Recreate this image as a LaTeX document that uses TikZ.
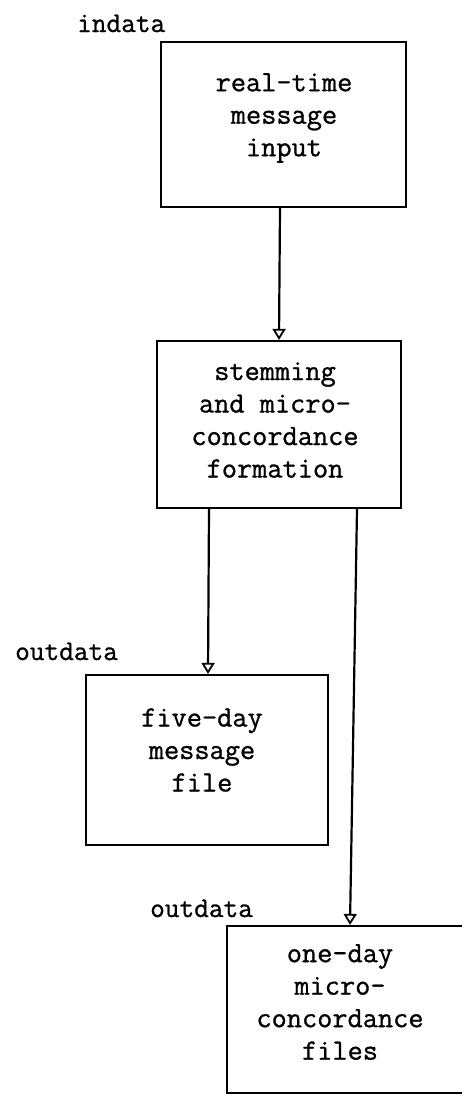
\documentclass[tikz,border=0pt]{standalone}
\usepackage{fontspec}
\newfontfamily\tw{Latin Modern Mono}[FakeBold=0.9]
\usetikzlibrary{arrows.meta}
\begin{document}
\begin{tikzpicture}[x=1pt,y=-1pt,
  box/.style={draw, line width=2.2pt, inner sep=0pt, rectangle},
  txt/.style={font=\tw\fontsize{29.5}{32.5}\selectfont, align=center, inner sep=0pt},
  lbl/.style={font=\tw\fontsize{28.5}{30}\selectfont, inner sep=0pt, anchor=base west},
  arr/.style={line width=2.2pt, -{Triangle[open, length=11pt, width=13pt, line width=1.8pt]}}]
\useasboundingbox (0,0) rectangle (462,1095);
\fill[white] (0,0) rectangle (462,1095);
\clip (0,0) rectangle (462,1095);
% boxes
\node[box, minimum width=245pt, minimum height=165pt] (b1) at (283.5,124.5) {};
\node[box, minimum width=244pt, minimum height=167pt] (b2) at (279,424.5) {};
\node[box, minimum width=242pt, minimum height=170pt] (b3) at (207,760) {};
\node[box, minimum width=253pt, minimum height=167pt] (b4) at (353.5,1009.5) {};
% texts
\node[txt] (t1) at (284,118) {real-time\\message\\input};
\node[txt] (t2) at (275,420) {stemming\\and micro-\\concordance\\formation};
\node[txt] (t3) at (202,750) {five-day\\message\\file};
\node[txt] (t4) at (340,1002) {one-day\\micro-\\concordance\\files};
% labels
\node[lbl] (l1) at (77,32) {indata};
\node[lbl] (l2) at (15,660) {outdata};
\node[lbl] (l3) at (150,917) {outdata};
% connectors
\draw[arr] ([xshift=-3.5pt]b1.south) -- (b2.north);
\draw[arr] ([xshift=-70pt]b2.south) -- ([xshift=1pt]b3.north);
\draw[arr] ([xshift=78pt]b2.south) -- ([xshift=-3.5pt]b4.north);
\end{tikzpicture}
\end{document}
